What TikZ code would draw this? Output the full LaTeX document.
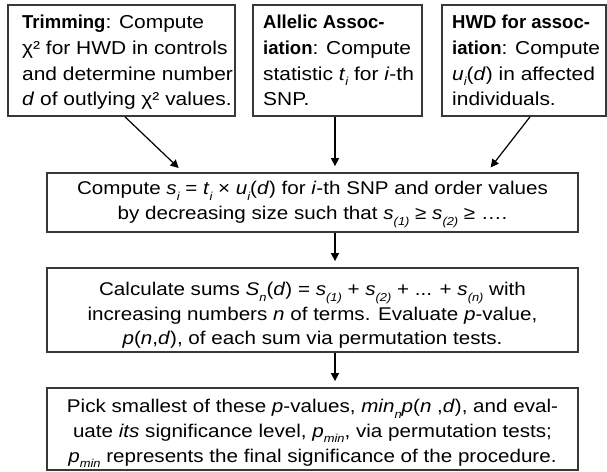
\documentclass[tikz,border=0pt]{standalone}
\usepackage{fontspec}
\setmainfont{Liberation Sans}[FakeStretch=1.12]
\newfontface\bnar{Liberation Sans Bold}[FakeStretch=0.99]
\usetikzlibrary{calc,arrows.meta}
\newcommand{\lo}[1]{\raisebox{-0.3em}{\fontsize{11.5}{11.5}\selectfont\itshape #1}}
\newcommand{\bx}[1]{{\bnar #1}}
\begin{document}
\begin{tikzpicture}[x=1pt,y=1pt,
  boxstyle/.style={draw=black!78,line width=1.7pt,rectangle,inner sep=0pt},
  txtl/.style={inner sep=0pt,align=left,anchor=base west,font=\fontsize{18.7}{25.6}\selectfont},
  txtc/.style={inner sep=0pt,align=center,anchor=base,font=\fontsize{18.4}{24.6}\selectfont},
  arr/.style={line width=1.2pt,-{Triangle[length=8pt,width=8pt]},shorten >=6pt}]
\useasboundingbox (0,0) rectangle (607,471);
\fill[white] (0,0) rectangle (607,471);
% boxes
\node[boxstyle,minimum width=227,minimum height=111] (b1) at (121.5,410.5) {};
\node[boxstyle,minimum width=169,minimum height=111] (b2) at (337.5,410.5) {};
\node[boxstyle,minimum width=164,minimum height=111] (b3) at (524,410.5) {};
\node[boxstyle,minimum width=531,minimum height=59] (b4) at (312.5,268.5) {};
\node[boxstyle,minimum width=531,minimum height=84] (b5) at (312.5,161) {};
\node[boxstyle,minimum width=531,minimum height=82] (b6) at (312.5,42) {};
% texts (base anchor = baseline of last line)
\node[txtl] (t1) at (22,365.2) {\bx{Trimming}: Compute\\
χ² for HWD in controls\\
and determine number\\
\textit{d} of outlying χ² values.};
\node[txtl] (t2) at (263,365.2) {\bx{Allelic Assoc-}\\
\bx{iation}: Compute\\
statistic \textit{t}\lo{i} for \textit{i}-th\\
SNP.};
\node[txtl] (t3) at (452,365.2) {\bx{HWD for assoc-}\\
\bx{iation}: Compute\\
\textit{u}\lo{i}(\textit{d}) in affected\\
individuals.};
\node[txtc] (t4) at (312.5,251.5) {Compute \textit{s}\lo{i} = \textit{t}\lo{i} × \textit{u}\lo{i}(\textit{d}) for \textit{i}-th SNP and order values\\
by decreasing size such that \textit{s}\lo{(1)} ≥ \textit{s}\lo{(2)} ≥ ….};
\node[txtc] (t5) at (312.5,126) {Calculate sums \textit{S}\lo{n}(\textit{d}) = \textit{s}\lo{(1)} + \textit{s}\lo{(2)} + ... + \textit{s}\lo{(n)} with\\
increasing numbers \textit{n} of terms. Evaluate \textit{p}-value,\\
\textit{p}(\textit{n},\textit{d}), of each sum via permutation tests.};
\node[txtc] (t6) at (312.5,9) {Pick smallest of these \textit{p}-values, \textit{min}\lo{n}\textit{p}(\textit{n} ,\textit{d}), and eval-\\
uate \textit{its} significance level, \textit{p}\lo{min}, via permutation tests;\\
\textit{p}\lo{min} represents the final significance of the procedure.};
% arrows
\coordinate (ax) at ($(b2.south)+(-2.5,0)$);
\draw[arr] ($(b1.south)+(3.5,0)$) -- ($(b4.north)+(-129.5,0)$);
\draw[arr] (ax) -- (ax |- b4.north);
\draw[arr] ($(b3.south)+(6,0)$) -- ($(b4.north)+(174.5,0)$);
\draw[arr] (ax |- b4.south) -- (ax |- b5.north);
\draw[arr] (ax |- b5.south) -- (ax |- b6.north);
\end{tikzpicture}
\end{document}
